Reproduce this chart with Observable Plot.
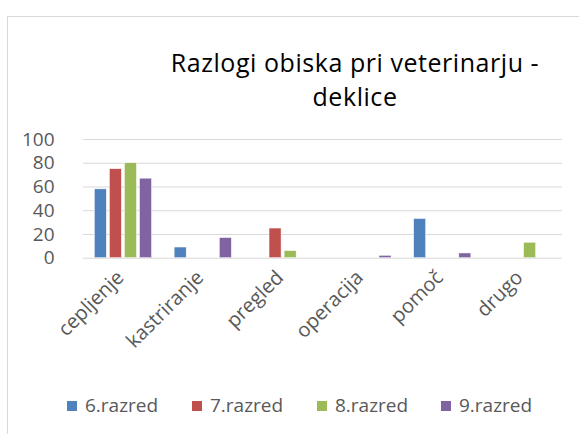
<!DOCTYPE html>
<html><head><meta charset="utf-8">
<script src="https://cdn.jsdelivr.net/npm/d3@7"></script>
<script src="https://cdn.jsdelivr.net/npm/@observablehq/plot@0.6"></script>
<style>
body{margin:0;background:#fff;font-family:"Open Sans",sans-serif;}
#wrap{position:relative;width:579px;height:434px;overflow:hidden;}
#frame{position:absolute;left:7px;top:16px;width:600px;height:500px;border:1.5px solid #d9d9d9;box-sizing:border-box;}
#title{position:absolute;left:100px;width:510px;top:45px;text-align:center;font-size:25px;letter-spacing:0.55px;line-height:34px;color:#000;}
#chart{position:absolute;left:0;top:120px;}
#legend{position:absolute;top:392px;left:0;font-size:19px;color:#595959;}
.item{position:absolute;white-space:nowrap;}
.sw{display:inline-block;width:10px;height:10px;margin-right:8px;vertical-align:1px;}
</style></head>
<body><div id="wrap"><div id="frame"></div>
<div id="title">Razlogi obiska pri veterinarju -<br>deklice</div>
<div id="chart"></div><div id="legend"></div></div>
<script>
const categories = ["cepljenje","kastriranje","pregled","operacija","pomoč","drugo"];
const series = ["6.razred","7.razred","8.razred","9.razred"];
const colors = ["#4f81bd","#c0504d","#9bbb59","#8064a2"];
const v6 = [58, 9, 0, 0, 33, 0];
const v7 = [75, 0, 25, 0, 0, 0];
const v8 = [80, 0, 6, 0, 0, 13];
const v9 = [67, 17, 0, 2, 4, 0];
const yTicks = [0,20,40,60,80,100];

const vals = [v6,v7,v8,v9];
const data = [];
categories.forEach((c,i)=>series.forEach((s,j)=>data.push({cat:c, ser:s, value:vals[j][i]})));

const plot = Plot.plot({
  width:579, height:260,
  marginLeft:83, marginRight:17, marginTop:19, marginBottom:122.3,
  style:{fontFamily:'"Open Sans",sans-serif', fontSize:"19px", color:"#595959"},
  fx:{domain:categories, padding:0, round:false, label:null, axis:null},
  x:{domain:series, paddingInner:0.2, paddingOuter:0.75, round:false, axis:null},
  y:{domain:[0,100], label:null, axis:null},
  color:{domain:series, range:colors},
  marks:[
    Plot.ruleY(yTicks,{stroke:"#d9d9d9", strokeWidth:1}),
    Plot.axisY(yTicks,{tickSize:0, tickPadding:29, label:null, fontSize:19, fill:"#595959"}),
    Plot.axisFx({anchor:"bottom", tickSize:0, tickRotate:-45, tickPadding:16, dx:-3, label:null, fontSize:20, fill:"#595959"}),
    Plot.barY(data.filter(d=>d.value>0),{fx:"cat", x:"ser", y:"value", fill:"ser", stroke:"#fff", strokeWidth:0.5})
  ]
});
document.getElementById("chart").appendChild(plot);

const pos = [67,192,317,441];
const leg = document.getElementById("legend");
series.forEach((s,i)=>{
  const d=document.createElement("div");d.className="item";d.style.left=pos[i]+"px";
  d.innerHTML=`<span class="sw" style="background:${colors[i]}"></span>${s}`;
  leg.appendChild(d);
});
</script></body></html>
